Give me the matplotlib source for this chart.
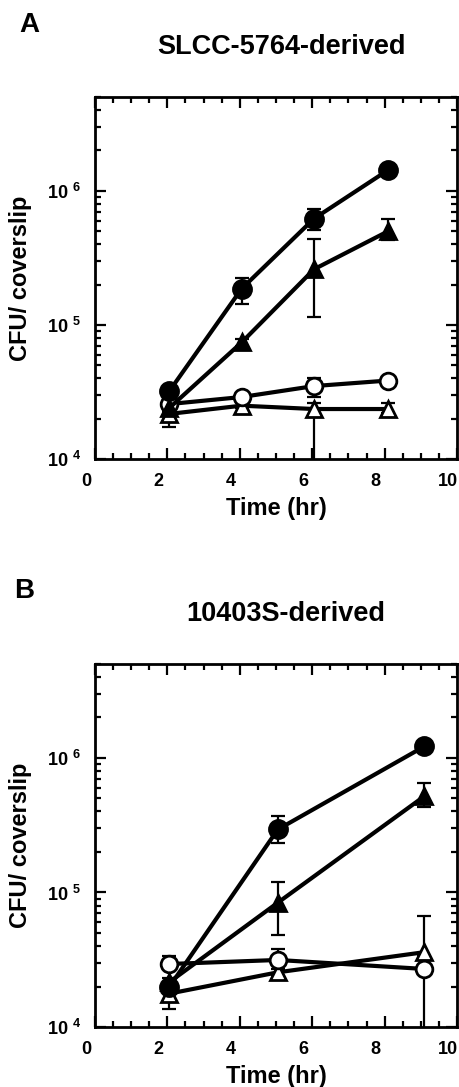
import matplotlib
matplotlib.use('Agg')
import matplotlib.pyplot as plt
from matplotlib.ticker import FixedLocator, FuncFormatter, LogLocator, NullFormatter
from matplotlib.transforms import ScaledTranslation

plt.rcParams['font.family'] = ['Liberation Sans', 'DejaVu Sans']
plt.rcParams['font.weight'] = 'bold'
plt.rcParams['mathtext.fontset'] = 'custom'
plt.rcParams['mathtext.rm'] = 'Liberation Sans:bold'
plt.rcParams['mathtext.it'] = 'Liberation Sans:bold'
plt.rcParams['mathtext.bf'] = 'Liberation Sans:bold'

# Panel A: SLCC-5764-derived
time_a = [2.05, 4.05, 6.05, 8.1]
fcirc_a = [3.2e4, 1.86e5, 6.2e5, 1.43e6]
fcirc_a_lo = [2.9e4, 1.43e5, 5.06e5, 1.35e6]
fcirc_a_hi = [3.5e4, 2.24e5, 7.3e5, 1.5e6]
ftri_a = [2.4e4, 7.4e4, 2.6e5, 5.0e5]
ftri_a_lo = [2.2e4, 7.0e4, 1.14e5, 4.3e5]
ftri_a_hi = [2.6e4, 7.8e4, 4.4e5, 6.2e5]
ocirc_a = [2.57e4, 2.9e4, 3.5e4, 3.85e4]
ocirc_a_lo = [2.4e4, 2.75e4, 2.9e4, 3.7e4]
ocirc_a_hi = [2.7e4, 3.05e4, 4.0e4, 4.0e4]
otri_a = [2.17e4, 2.5e4, 2.36e4, 2.36e4]
otri_a_lo = [1.72e4, 2.4e4, 5e3, 2.2e4]
otri_a_hi = [2.3e4, 2.6e4, 2.6e4, 2.6e4]

# Panel B: 10403S-derived
time_b = [2.05, 5.05, 9.1]
fcirc_b = [1.98e4, 2.94e5, 1.22e6]
fcirc_b_lo = [1.85e4, 2.35e5, 1.15e6]
fcirc_b_hi = [2.1e4, 3.7e5, 1.3e6]
ftri_b = [2.15e4, 8.4e4, 5.2e5]
ftri_b_lo = [2.0e4, 4.8e4, 4.3e5]
ftri_b_hi = [2.3e4, 1.2e5, 6.5e5]
ocirc_b = [2.94e4, 3.15e4, 2.7e4]
ocirc_b_lo = [2.8e4, 3.0e4, 5e3]
ocirc_b_hi = [3.4e4, 3.8e4, 2.9e4]
otri_b = [1.77e4, 2.55e4, 3.6e4]
otri_b_lo = [1.37e4, 2.4e4, 3.4e4]
otri_b_hi = [1.9e4, 2.7e4, 6.7e4]

xticks = [0, 2, 4, 6, 8, 10]


def draw_series(ax, t, y, lo, hi, marker, filled, ms):
    yerr = [[v - l for v, l in zip(y, lo)], [h - v for v, h in zip(y, hi)]]
    ax.errorbar(t, y, yerr=yerr, fmt='none', ecolor='black', elinewidth=1.6,
                capsize=5, capthick=1.6, zorder=2)
    ax.plot(t, y, color='black', lw=3, marker=marker, ms=ms,
            mfc='black' if filled else 'white', mec='black', mew=2, zorder=3)


def style_axis(ax, fig):
    ax.set_yscale('log')
    ax.set_xlim(0, 10)
    ax.set_ylim(1e4, 5e6)
    ax.xaxis.set_major_locator(FixedLocator(xticks))
    ax.xaxis.set_minor_locator(FixedLocator([x / 2 for x in range(21)]))
    ax.yaxis.set_major_locator(LogLocator(base=10))
    ax.yaxis.set_minor_locator(LogLocator(base=10, subs=range(2, 10)))
    ax.yaxis.set_major_formatter(FuncFormatter(lambda v, p: '10 $^{%d}$' % round(__import__('math').log10(v))))
    ax.yaxis.set_minor_formatter(NullFormatter())
    ax.tick_params(which='both', direction='in', top=True, right=True, width=1.6)
    ax.tick_params(which='major', length=8, labelsize=13)
    ax.tick_params(which='minor', length=4)
    ax.tick_params(axis='x', pad=10)
    ax.tick_params(axis='y', pad=10)
    for s in ax.spines.values():
        s.set_linewidth(2)
    ax.set_xlabel('Time (hr)', fontsize=17, fontweight='bold')
    ax.set_ylabel('CFU/ coverslip', fontsize=17, fontweight='bold')
    ax.xaxis.set_label_coords(0.5, -0.105)
    ax.yaxis.set_label_coords(-0.175, 0.5)
    shift = ScaledTranslation(-9 / 100, 0, fig.dpi_scale_trans)
    for lab in ax.get_xticklabels():
        lab.set_transform(lab.get_transform() + shift)


fig = plt.figure(figsize=(4.6, 10.87), dpi=100)
ax_a = fig.add_axes([0.2065, 0.5777, 0.787, 0.333])
ax_b = fig.add_axes([0.2065, 0.0552, 0.787, 0.334])

draw_series(ax_a, time_a, otri_a, otri_a_lo, otri_a_hi, '^', False, 12)
draw_series(ax_a, time_a, ocirc_a, ocirc_a_lo, ocirc_a_hi, 'o', False, 12)
draw_series(ax_a, time_a, ftri_a, ftri_a_lo, ftri_a_hi, '^', True, 12)
draw_series(ax_a, time_a, fcirc_a, fcirc_a_lo, fcirc_a_hi, 'o', True, 13)
style_axis(ax_a, fig)

draw_series(ax_b, time_b, otri_b, otri_b_lo, otri_b_hi, '^', False, 12)
draw_series(ax_b, time_b, ocirc_b, ocirc_b_lo, ocirc_b_hi, 'o', False, 12)
draw_series(ax_b, time_b, ftri_b, ftri_b_lo, ftri_b_hi, '^', True, 12)
draw_series(ax_b, time_b, fcirc_b, fcirc_b_lo, fcirc_b_hi, 'o', True, 13)
style_axis(ax_b, fig)

fig.text(0.063, 0.977, 'A', fontsize=20, fontweight='bold', ha='center', va='center')
fig.text(0.611, 0.957, 'SLCC-5764-derived', fontsize=19.5, fontweight='bold', ha='center', va='center')
fig.text(0.052, 0.4563, 'B', fontsize=20, fontweight='bold', ha='center', va='center')
fig.text(0.622, 0.4351, '10403S-derived', fontsize=19.5, fontweight='bold', ha='center', va='center')

fig.savefig('out.png', dpi=100)
